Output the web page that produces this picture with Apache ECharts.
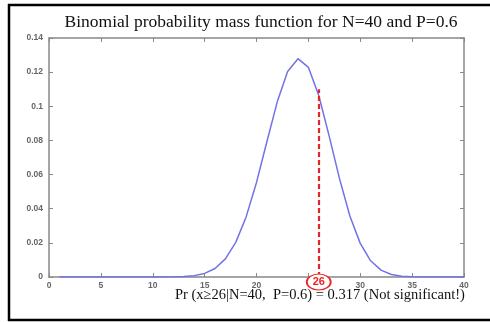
<!DOCTYPE html>
<html>
<head>
<meta charset="utf-8">
<script src="https://cdn.jsdelivr.net/npm/echarts@6/dist/echarts.min.js"></script>
<style>html,body{margin:0;padding:0;background:#fff;}#c{width:490px;height:322px;}</style>
</head>
<body>
<div id="c"></div>
<script>
var titleText = 'Binomial probability mass function for N=40 and P=0.6';
var noteText = 'Pr (x\u226526|N=40,  P=0.6) = 0.317 (Not significant!)';
var kValues = [1,2,3,4,5,6,7,8,9,10,11,12,13,14,15,16,17,18,19,20,21,22,23,24,25,26,27,28,29,30,31,32,33,34,35,36,37,38,39,40];
var pmfValues = [0,0,0,0,0,0,0,0,0,0,0,0.0001,0.0003,0.0008,0.0021,0.0050,0.0106,0.0203,0.0352,0.0554,0.0792,0.1026,0.1204,0.1279,0.1228,0.1063,0.0827,0.0576,0.0357,0.0197,0.0095,0.0040,0.0015,0.0005,0.0001,0,0,0,0,0];
var markK = 26;
var markTop = 0.11;
var xTicks = [0,5,10,15,20,25,30,35,40];
var yTicks = [0,0.02,0.04,0.06,0.08,0.1,0.12,0.14];

var chart = echarts.init(document.getElementById('c'));
var axisGray = '#888888';
var labelGray = '#666666';
var data = kValues.map(function(k,i){return [k,pmfValues[i]];});
function axisBase(){
  return {axisLine:{show:true,onZero:false,lineStyle:{color:axisGray,width:1.5}},
    axisTick:{show:true,inside:true,length:4,lineStyle:{color:axisGray}},
    splitLine:{show:false}};
}
var xb = axisBase(), xt = axisBase(), yl = axisBase(), yr = axisBase();
var option = {
  animation:false,
  title:{text:titleText,left:256,textAlign:'center',top:8,
    textStyle:{fontFamily:'Liberation Serif',fontSize:17.5,fontWeight:'normal',color:'#111'}},
  grid:{left:49,top:38,right:26,bottom:45},
  xAxis:[Object.assign(xb,{type:'value',min:0,max:40,interval:5,position:'bottom',
    axisLabel:{color:labelGray,fontSize:8.5,fontFamily:'Liberation Sans',fontWeight:'bold',margin:4,
      formatter:function(v){return v===25?'':String(v);}}}),
    Object.assign(xt,{type:'value',min:0,max:40,interval:5,position:'top',axisLabel:{show:false}})],
  yAxis:[Object.assign(yl,{type:'value',min:0,max:0.14,interval:0.02,position:'left',
    axisLabel:{color:labelGray,fontSize:8.5,fontFamily:'Liberation Sans',fontWeight:'bold',margin:6}}),
    Object.assign(yr,{type:'value',min:0,max:0.14,interval:0.02,position:'right',axisLabel:{show:false}})],
  series:[{type:'line',data:data,showSymbol:false,symbol:'none',xAxisIndex:0,yAxisIndex:0,
    lineStyle:{color:'#7272e6',width:1.5},
    markLine:{silent:true,symbol:['none','none'],label:{show:false},
      lineStyle:{color:'#ee2222',type:[5,3],width:2.2},
      data:[[{coord:[markK,0]},{coord:[markK,markTop]}]]},
    markPoint:{silent:true,data:[{coord:[markK,0],symbol:'circle',symbolSize:[24,16],symbolOffset:[0,5],
      itemStyle:{color:'#ffffff',borderColor:'#ee2222',borderWidth:1.5},
      label:{show:true,position:'inside',formatter:String(markK),color:'#ee2222',fontSize:11,fontWeight:'bold',fontFamily:'Liberation Sans'}}]}
  }],
  graphic:[
    {type:'line',shape:{x1:9,y1:4,x2:9,y2:321},style:{stroke:'#000',lineWidth:2.5}},
    {type:'line',shape:{x1:8,y1:5,x2:490,y2:5},style:{stroke:'#000',lineWidth:2.5}},
    {type:'line',shape:{x1:8,y1:320,x2:490,y2:320},style:{stroke:'#000',lineWidth:2.5}},
    {type:'text',left:175,top:288,style:{text:noteText,font:'14.5px "Liberation Serif"',fill:'#111'}}
  ]
};
chart.setOption(option);
</script>
</body>
</html>
